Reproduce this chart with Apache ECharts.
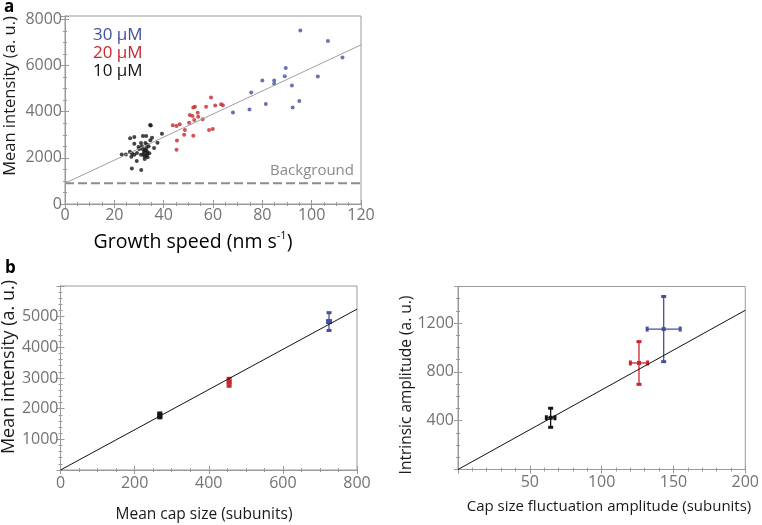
<!DOCTYPE html>
<html><head><meta charset="utf-8">
<script src="https://cdn.jsdelivr.net/npm/echarts@6/dist/echarts.min.js"></script>
<style>html,body{margin:0;padding:0;background:#fff}#c{width:762px;height:525px}</style>
</head><body><div id="c"></div>
<script>
// ---------- Panel a data (growth speed nm/s, mean intensity a.u.) ----------
const speed30 = [95.4,106.6,112.5,89.5,89.1,80,84.8,84.8,92,102.5,75.5,81.4,95,92.3,74.8,68.1];
const inten30 = [7524,7066,6351,5897,5538,5353,5353,5210,5139,5525,4839,4338,4467,4184,4098,3970];
const speed20 = [43.7,45.2,46.5,48.6,45.4,48.3,52,45.2,50.3,50.6,52,52.7,53.8,51.7,52.4,54,55.8,57.2,59.2,60.9,63.3,64,58.4,59.9];
const inten20 = [3413,3383,3456,3212,2754,2998,2955,2355,3525,3854,4184,4211,3953,3812,3640,3782,3670,4211,4612,4270,4325,4283,3212,3255];
const speed10 = [34.5,34.8,39.3,26.4,28.1,31.6,32.9,35.3,37.5,28.1,34.6,30.8,32.6,33.3,31.2,33.9,36.1,30.1,32.4,33.2,32.0,33.4,26.3,27.2,28.1,29.2,23.0,24.7,30.8,32.2,33.1,29.1,32.3,27.1,30.9,31.5,32.9,29.8,34.2,31.9,33.5,26.9];
const inten10 = [3430,3400,3050,2850,2900,2950,2950,2870,2660,2610,2760,2640,2640,2570,2500,2500,2430,2380,2330,2290,2250,2200,2260,2190,2140,2210,2150,2150,2140,2070,2100,1860,1950,1540,1470,2380,2420,2470,2200,2160,2030,2050];
const fitAX = [0, 120];
const fitAY = [900, 6900];
const backgroundLevel = 900;
const concLabels = ['30 μM', '20 μM', '10 μM'];

// ---------- Panel b data ----------
const capMean = [268, 455, 724.5];
const capIntensity = [1780, 2860, 4840];
const capErrX = [3, 3, 4];
const capErrY = [80, 130, 290];
const fitB1X = [0, 800];
const fitB1Y = [0, 5245];

const fluctAmp = [64.5, 126, 143.2];
const intrinsicAmp = [424, 873, 1151];
const fluctErrX = [3, 6, 11.5];
const fluctErrY = [78, 175, 267];
const fitB2X = [0, 200];
const fitB2Y = [0, 1305];

// ---------- tick labels ----------
const ticksAX = [0, 20, 40, 60, 80, 100, 120];
const ticksAY = [0, 2000, 4000, 6000, 8000];
const ticksB1X = [0, 200, 400, 600, 800];
const ticksB1Y = [1000, 2000, 3000, 4000, 5000];
const ticksB2X = [50, 100, 150, 200];
const ticksB2Y = [400, 800, 1200];

// ---------- styling ----------
const FONT = 'Open Sans';
const FRAME = '#9a9a9a';
const TICKTXT = '#737373';
const TITLE = '#1a1a1a';
const colBlack = '#151515', colRed = '#c9262e', colBlue = '#43509f';
const groupColors = [colBlack, colRed, colBlue];

const zip = (a, b) => a.map((v, i) => [v, b[i]]);

function ax(grid, min, max, interval, minor, ticks, pos, labels, margin, fs) {
  return {
    type: 'value', gridIndex: grid, min, max, interval, position: pos,
    axisLine: { show: true, lineStyle: { color: FRAME, width: 1 } },
    axisTick: { show: true, inside: true, length: 4, lineStyle: { color: FRAME } },
    minorTick: { show: true, splitNumber: minor, length: 2, lineStyle: { color: FRAME } },
    splitLine: { show: false }, minorSplitLine: { show: false },
    axisLabel: {
      show: labels, margin: margin, color: TICKTXT, fontFamily: FONT, fontSize: fs || 16,
      formatter: v => ticks.includes(v) ? String(v) : ''
    }
  };
}

const chart = echarts.init(document.getElementById('c'), null, { renderer: 'canvas' });

function errRender(params, api) {
  const x = api.value(0), y = api.value(1), ex = api.value(2), ey = api.value(3);
  const color = groupColors[api.value(4)];
  const c = api.coord([x, y]);
  const t = api.coord([x, y + ey]), b = api.coord([x, y - ey]);
  const l = api.coord([x - ex, y]), r = api.coord([x + ex, y]);
  const st = { stroke: color, lineWidth: 1.3 };
  return {
    type: 'group',
    children: [
      { type: 'line', shape: { x1: c[0], y1: t[1], x2: c[0], y2: b[1] }, style: st },
      { type: 'line', shape: { x1: l[0], y1: c[1], x2: r[0], y2: c[1] }, style: st },
      { type: 'rect', shape: { x: c[0] - 2.5, y: t[1] - 1.5, width: 5, height: 3 }, style: { fill: color } },
      { type: 'rect', shape: { x: c[0] - 2.5, y: b[1] - 1.5, width: 5, height: 3 }, style: { fill: color } },
      { type: 'rect', shape: { x: l[0] - 1.5, y: c[1] - 2.5, width: 3, height: 5 }, style: { fill: color } },
      { type: 'rect', shape: { x: r[0] - 1.5, y: c[1] - 2.5, width: 3, height: 5 }, style: { fill: color } },
      { type: 'rect', shape: { x: c[0] - 2, y: c[1] - 2, width: 4, height: 4 }, style: { fill: color } }
    ]
  };
}

const errData1 = capMean.map((v, i) => [v, capIntensity[i], capErrX[i], capErrY[i], i]);
const errData2 = fluctAmp.map((v, i) => [v, intrinsicAmp[i], fluctErrX[i], fluctErrY[i], i]);

const option = {
  animation: false,
  backgroundColor: '#ffffff',
  grid: [
    { left: 65, top: 16, width: 296, height: 188, show: true, borderColor: FRAME, borderWidth: 1 },
    { left: 60.5, top: 286, width: 296.5, height: 184, show: true, borderColor: FRAME, borderWidth: 1 },
    { left: 458, top: 286.5, width: 294.5, height: 183, show: true, borderColor: FRAME, borderWidth: 1 }
  ],
  xAxis: [
    ax(0, 0, 120, 20, 4, ticksAX, 'bottom', true, 3, 16),
    ax(0, 0, 120, 20, 4, ticksAX, 'top', false, 4),
    ax(1, 0, 800, 200, 4, ticksB1X, 'bottom', true, 5, 16),
    ax(1, 0, 800, 200, 4, ticksB1X, 'top', false, 4),
    ax(2, 0, 200, 50, 5, ticksB2X, 'bottom', true, 5, 16),
    ax(2, 0, 200, 50, 5, ticksB2X, 'top', false, 4)
  ],
  yAxis: [
    ax(0, 0, 8150, 2000, 4, ticksAY, 'left', true, 3, 16),
    ax(0, 0, 8150, 2000, 4, ticksAY, 'right', false, 3),
    ax(1, 0, 6000, 1000, 5, ticksB1Y, 'left', true, 2, 16),
    ax(1, 0, 6000, 1000, 5, ticksB1Y, 'right', false, 2),
    ax(2, 0, 1500, 400, 4, ticksB2Y, 'left', true, 4, 16),
    ax(2, 0, 1500, 400, 4, ticksB2Y, 'right', false, 4)
  ],
  series: [
    { type: 'line', xAxisIndex: 0, yAxisIndex: 0, data: [[fitAX[0], backgroundLevel], [fitAX[1], backgroundLevel]],
      symbol: 'none', lineStyle: { color: '#8c8c8c', width: 2, type: [9, 4] }, silent: true },
    { type: 'line', xAxisIndex: 0, yAxisIndex: 0, data: zip(fitAX, fitAY), symbol: 'none',
      lineStyle: { color: '#a0a0a0', width: 1 }, silent: true },
    { type: 'scatter', xAxisIndex: 0, yAxisIndex: 0, data: zip(speed30, inten30), symbolSize: 4, itemStyle: { color: colBlue } },
    { type: 'scatter', xAxisIndex: 0, yAxisIndex: 0, data: zip(speed20, inten20), symbolSize: 4, itemStyle: { color: colRed } },
    { type: 'scatter', xAxisIndex: 0, yAxisIndex: 0, data: zip(speed10, inten10), symbolSize: 4, itemStyle: { color: colBlack } },

    { type: 'line', xAxisIndex: 2, yAxisIndex: 2, data: zip(fitB1X, fitB1Y), symbol: 'none',
      lineStyle: { color: '#111', width: 1 }, silent: true },
    { type: 'custom', xAxisIndex: 2, yAxisIndex: 2, data: errData1, renderItem: errRender,
      encode: { x: 0, y: 1 } },

    { type: 'line', xAxisIndex: 4, yAxisIndex: 4, data: zip(fitB2X, fitB2Y), symbol: 'none',
      lineStyle: { color: '#111', width: 1 }, silent: true },
    { type: 'custom', xAxisIndex: 4, yAxisIndex: 4, data: errData2, renderItem: errRender,
      encode: { x: 0, y: 1 } }
  ],
  graphic: [
    { type: 'text', left: 4, top: -1, style: { text: 'a', font: 'bold 17px "Open Sans"', fill: '#000' } },
    { type: 'text', left: 5, top: 260, style: { text: 'b', font: 'bold 17px "Open Sans"', fill: '#000' } },
    { type: 'text', x: 93, y: 35, style: { text: concLabels[0], font: '17px "Open Sans"', fill: colBlue, textVerticalAlign: 'middle' } },
    { type: 'text', x: 93, y: 53, style: { text: concLabels[1], font: '17px "Open Sans"', fill: colRed, textVerticalAlign: 'middle' } },
    { type: 'text', x: 93, y: 71, style: { text: concLabels[2], font: '17px "Open Sans"', fill: colBlack, textVerticalAlign: 'middle' } },
    { type: 'text', x: 354, y: 171, style: { text: 'Background', font: '15px "Open Sans"', fill: '#8a8a8a', textAlign: 'right', textVerticalAlign: 'middle' } },
    { type: 'text', x: 10, y: 96, rotation: Math.PI / 2,
      style: { text: 'Mean intensity (a. u.)', font: '16.5px "Open Sans"', fill: TITLE, textAlign: 'center', textVerticalAlign: 'middle' } },
    { type: 'text', x: 193, y: 242,
      style: { text: '{a|Growth speed (nm s}{s|-1}{a|)}', textAlign: 'center', textVerticalAlign: 'middle',
        rich: { a: { fontFamily: FONT, fontSize: 19.5, color: TITLE, lineHeight: 24 },
                s: { fontFamily: FONT, fontSize: 11, color: TITLE, lineHeight: 24, verticalAlign: 'top', padding: [0, 0, 10, 0] } } } },
    { type: 'text', x: 9, y: 367, rotation: Math.PI / 2,
      style: { text: 'Mean intensity (a. u.)', font: '18px "Open Sans"', fill: TITLE, textAlign: 'center', textVerticalAlign: 'middle' } },
    { type: 'text', x: 204, y: 515,
      style: { text: 'Mean cap size (subunits)', font: '15.5px "Open Sans"', fill: TITLE, textAlign: 'center', textVerticalAlign: 'middle' } },
    { type: 'text', x: 407, y: 385, rotation: Math.PI / 2,
      style: { text: 'Intrinsic amplitude (a. u.)', font: '15.5px "Open Sans"', fill: TITLE, textAlign: 'center', textVerticalAlign: 'middle' } },
    { type: 'text', x: 609, y: 507,
      style: { text: 'Cap size fluctuation amplitude (subunits)', font: '15px "Open Sans"', fill: TITLE, textAlign: 'center', textVerticalAlign: 'middle' } }
  ]
};
chart.setOption(option);
</script>
</body></html>
